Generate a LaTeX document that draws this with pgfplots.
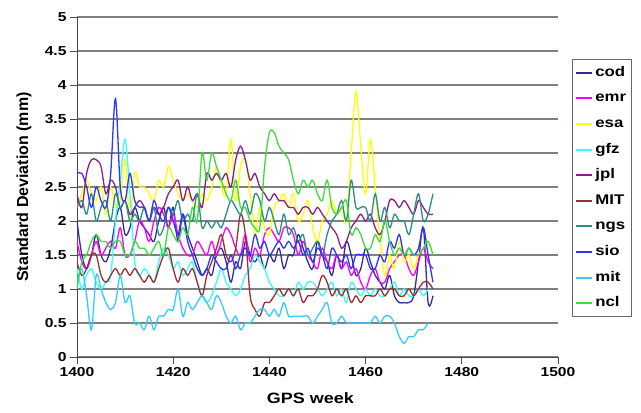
\documentclass[border=0pt]{standalone}
\usepackage{pgfplots}
\usepackage{pgfplotstable}
\pgfplotsset{compat=1.18}
\usepackage{fontspec}
\setmainfont{Liberation Sans}[FakeStretch=1.2]
\newfontfamily\ylabfont{Liberation Sans}
\definecolor{ccod}{HTML}{2F2F96}
\definecolor{cemr}{HTML}{FF00FF}
\definecolor{cesa}{HTML}{FFFF00}
\definecolor{cgfz}{HTML}{33FFFF}
\definecolor{cjpl}{HTML}{8B1F8B}
\definecolor{cMIT}{HTML}{9A3030}
\definecolor{cngs}{HTML}{2E8B8B}
\definecolor{csio}{HTML}{3333FF}
\definecolor{cmit}{HTML}{33CCFF}
\definecolor{cncl}{HTML}{3CDC3C}
\pgfplotstableread{
w cod emr esa gfz jpl MITa ngs sio mitb ncl
1400 2.0 1.7 2.2 1.3 2.4 1.4 2.2 2.7 1.1 1.0
1401 1.5 1.4 2.4 1.0 2.2 1.2 2.3 2.7 1.3 1.4
1402 1.3 1.3 2.6 1.2 2.7 1.3 2.1 2.5 0.9 1.5
1403 1.5 1.5 2.4 1.3 2.9 1.5 2.4 2.2 0.4 1.7
1404 1.8 1.7 2.3 1.1 2.9 1.5 2.0 2.5 1.2 1.8
1405 1.5 1.5 2.5 1.0 2.8 1.2 2.2 2.3 1.0 1.7
1406 1.4 1.6 2.1 1.1 2.4 1.1 2.3 2.2 0.8 1.7
1407 1.6 1.7 2.5 1.2 2.6 1.2 2.0 2.7 0.7 1.6
1408 2.0 1.6 2.2 2.0 2.5 1.3 2.4 3.8 0.8 1.7
1409 2.2 1.9 2.3 2.6 2.2 1.2 2.2 2.5 1.2 1.7
1410 1.8 1.5 2.9 3.2 2.3 1.3 2.3 2.3 0.8 1.5
1411 1.9 1.5 2.0 2.4 2.1 1.2 2.0 2.7 0.9 1.5
1412 2.2 1.7 2.7 1.4 2.2 1.3 2.1 2.3 0.5 1.7
1413 2.0 2.0 2.5 1.2 2.3 1.2 2.0 2.2 0.5 1.6
1414 1.9 1.9 2.5 1.3 2.2 1.1 2.2 2.2 0.4 1.6
1415 1.8 1.7 2.4 1.2 2.0 1.2 2.0 2.0 0.6 1.5
1416 1.7 2.0 2.3 1.1 2.2 1.1 2.2 2.3 0.4 1.6
1417 2.0 2.2 2.6 1.4 2.1 1.3 1.8 2.1 0.6 1.7
1418 2.2 2.1 2.5 1.6 2.2 1.5 1.9 2.0 0.6 1.5
1419 1.9 1.9 2.8 1.5 2.4 1.6 2.2 2.2 0.7 1.9
1420 2.2 2.1 2.6 1.3 2.5 1.3 2.1 2.0 0.7 1.8
1421 1.7 1.8 2.4 1.4 2.6 1.1 2.3 1.8 1.0 1.7
1422 2.1 1.6 2.3 1.2 2.3 1.3 2.0 2.1 0.6 1.9
1423 1.8 1.5 2.4 1.3 2.5 1.2 2.1 1.7 0.8 1.8
1424 1.6 1.5 2.3 1.4 2.3 1.3 2.0 1.5 0.7 2.2
1425 1.4 1.7 2.2 1.1 2.4 1.1 2.4 1.3 0.8 2.0
1426 1.2 1.6 2.4 0.9 2.2 0.9 1.9 1.2 0.9 3.0
1427 1.3 1.5 2.3 0.8 2.7 1.2 2.0 1.3 0.8 2.6
1428 1.2 1.7 2.5 0.9 2.6 1.4 1.9 1.5 0.7 3.0
1429 1.5 1.5 2.8 1.1 2.7 1.6 2.0 1.4 0.9 2.8
1430 1.6 1.7 2.5 1.3 2.6 1.8 1.9 1.3 0.8 2.6
1431 1.4 1.9 2.4 1.1 2.7 1.5 2.1 1.3 0.6 2.4
1432 1.1 1.8 3.2 1.0 2.5 1.4 2.3 1.5 0.5 2.3
1433 1.4 1.6 2.3 0.9 2.9 1.6 2.2 1.3 0.6 2.6
1434 1.3 1.5 2.8 1.0 3.1 2.1 2.1 1.5 0.4 2.2
1435 1.7 1.8 2.9 1.2 2.9 1.8 2.3 1.6 0.5 2.2
1436 1.5 1.4 2.4 1.3 2.6 0.9 2.1 1.5 0.5 2.0
1437 1.4 1.6 1.8 1.5 2.7 0.7 2.4 1.8 0.6 1.9
1438 1.5 1.5 2.2 1.4 2.5 0.6 2.3 1.6 0.7 1.9
1439 1.3 1.8 1.9 1.3 2.4 0.8 2.0 1.7 0.7 2.8
1440 1.5 1.9 1.8 1.1 2.3 0.8 2.2 1.5 0.6 3.3
1441 1.4 1.8 2.2 1.0 2.4 0.9 2.0 1.6 0.7 3.3
1442 1.6 1.7 2.3 0.9 2.3 1.0 1.8 1.7 0.6 3.1
1443 1.3 1.9 2.4 0.9 2.3 0.9 2.1 1.6 0.8 3.0
1444 1.5 1.9 2.2 1.0 2.2 1.0 1.8 1.7 0.6 2.9
1445 1.5 1.8 2.4 0.9 2.2 0.9 1.9 1.6 0.6 2.6
1446 1.8 1.5 2.0 1.1 2.1 1.0 1.7 1.7 0.6 2.4
1447 1.6 1.7 2.1 1.0 2.2 0.8 1.8 1.5 0.6 2.6
1448 1.4 1.5 2.3 1.1 2.2 0.9 1.5 1.6 0.6 2.5
1449 1.3 1.4 1.9 1.1 2.1 0.9 1.6 1.4 0.5 2.6
1450 1.7 1.3 1.7 1.0 2.2 1.0 1.7 1.6 0.6 2.4
1451 1.5 1.6 2.0 0.9 2.1 1.2 1.5 1.5 0.7 2.3
1452 1.4 1.4 2.1 1.0 2.0 1.1 1.8 1.3 0.8 2.6
1453 1.2 1.3 2.3 1.1 1.9 0.9 2.0 1.6 0.5 2.2
1454 1.5 1.5 2.1 0.9 1.8 1.0 2.1 1.5 0.5 2.1
1455 1.3 1.3 2.2 1.0 1.6 0.9 2.3 1.4 0.6 2.2
1456 1.7 1.4 2.0 0.8 1.7 1.0 2.0 1.5 0.5 2.3
1457 1.5 1.2 3.0 1.1 1.9 0.8 2.6 1.3 0.5 1.8
1458 1.2 1.3 3.9 1.0 2.0 0.9 2.2 1.5 0.5 1.9
1459 1.3 1.1 3.1 0.9 2.1 0.8 2.2 1.5 0.5 1.8
1460 1.6 1.0 2.4 1.0 2.0 0.9 2.2 1.5 0.5 1.6
1461 1.4 1.2 3.2 0.9 2.1 0.9 2.0 1.3 0.5 1.6
1462 1.2 1.3 2.5 1.0 1.9 0.9 2.4 1.3 0.6 1.8
1463 1.1 1.1 1.7 0.9 1.8 1.0 2.0 1.5 0.5 1.7
1464 1.0 1.1 1.2 0.9 2.0 0.9 2.2 1.4 0.6 2.0
1465 1.2 1.3 1.5 1.0 2.3 1.0 1.9 1.7 0.6 1.7
1466 0.9 1.4 1.3 1.1 2.3 1.0 2.1 1.6 0.5 1.5
1467 0.8 1.5 1.7 0.9 2.2 0.9 2.0 1.8 0.3 1.6
1468 0.8 1.5 1.4 1.0 2.3 0.9 2.0 1.5 0.2 1.5
1469 0.8 1.3 1.5 0.9 2.2 1.0 1.8 1.6 0.3 1.6
1470 0.9 1.2 1.3 0.9 2.1 0.9 2.1 1.5 0.3 1.5
1471 1.4 1.4 1.5 1.0 2.3 1.0 2.4 1.6 0.4 1.5
1472 1.9 1.6 1.6 0.9 2.2 1.1 2.0 1.9 0.4 1.6
1473 0.8 1.4 1.7 1.0 2.1 1.1 2.1 1.5 0.5 1.7
1474 0.9 1.3 1.5 nan 2.1 1.0 2.4 1.1 nan 1.5
}\datatable
\begin{document}
\begin{tikzpicture}[x=1pt,y=1pt]
\path[use as bounding box] (0,0) rectangle (641,413);
\begin{axis}[
  at={(77pt,56pt)}, anchor=south west,
  scale only axis, width=481pt, height=340pt,
  xmin=1400, xmax=1500, ymin=0, ymax=5,
  xtick={1400,1420,1440,1460,1480,1500},
  ytick={0,0.5,1,1.5,2,2.5,3,3.5,4,4.5,5},
  axis x line*=bottom, axis y line*=left,
  x axis line style={-}, y axis line style={-},
  axis line style={color=black!70, line width=0.9pt},
  ymajorgrids, major grid style={line width=1.8pt, color=black!50},
  tick align=outside, major tick length=7pt,
  tick style={color=black!70, line width=0.9pt},
  /pgf/number format/assume math mode=true,
  /pgf/number format/1000 sep={},
  tick label style={font=\bfseries\fontsize{13}{15}\selectfont, color=black},
  xlabel={GPS week}, ylabel={\ylabfont Standard Deviation (mm)},
  xlabel style={font=\bfseries\fontsize{15}{17}\selectfont, at={(axis description cs:0.4854,-0.1206)}, anchor=center},
  ylabel style={font=\bfseries\fontsize{16}{18}\selectfont, at={(axis description cs:-0.11,0.5)}, anchor=center},
  unbounded coords=jump,
  every axis plot/.append style={line width=1.3pt, smooth, tension=0.55, no markers},
  legend cell align=left,
  legend image code/.code={\draw[#1, line width=2pt] (0pt,0pt) -- (16pt,0pt);},
  legend style={at={(rel axis cs:1.029,0.8765)}, anchor=north west,
    draw=black!60, line width=0.8pt, fill=white,
    font=\bfseries\fontsize{14}{16}\selectfont,
    nodes={text height=10pt, text depth=3pt, inner sep=2pt},
    row sep=8.6pt, inner xsep=3pt, inner ysep=5pt},
]
\addplot[color=ccod] table[x=w, y=cod] {\datatable};
\addlegendentry{cod}
\addplot[color=cemr] table[x=w, y=emr] {\datatable};
\addlegendentry{emr}
\addplot[color=cesa] table[x=w, y=esa] {\datatable};
\addlegendentry{esa}
\addplot[color=cgfz] table[x=w, y=gfz] {\datatable};
\addlegendentry{gfz}
\addplot[color=cjpl] table[x=w, y=jpl] {\datatable};
\addlegendentry{jpl}
\addplot[color=cMIT] table[x=w, y=MITa] {\datatable};
\addlegendentry{MIT}
\addplot[color=cngs] table[x=w, y=ngs] {\datatable};
\addlegendentry{ngs}
\addplot[color=csio] table[x=w, y=sio] {\datatable};
\addlegendentry{sio}
\addplot[color=cmit] table[x=w, y=mitb] {\datatable};
\addlegendentry{mit}
\addplot[color=cncl] table[x=w, y=ncl] {\datatable};
\addlegendentry{ncl}
\end{axis}
\end{tikzpicture}
\end{document}
